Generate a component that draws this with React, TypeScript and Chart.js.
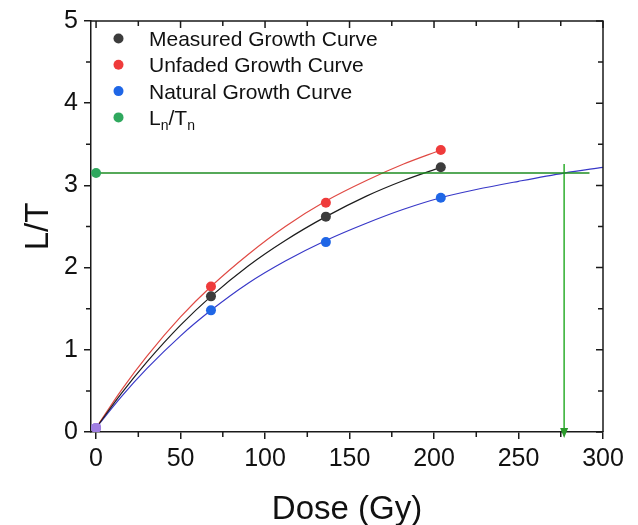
import React, { useEffect, useRef } from 'react';
import { Chart, registerables } from 'chart.js';

Chart.register(...registerables);

// Measured points (Dose in Gy, L/T)
const DOSE = [0, 68, 136, 204];
const MEASURED = [0.05, 1.65, 2.62, 3.22];
const UNFADED = [0.05, 1.77, 2.79, 3.43];
const NATURAL = [0.05, 1.48, 2.31, 2.85];

// Fitted growth curves
const FIT_DOSE = [0, 15, 30, 50, 68, 90, 112, 136, 160, 182, 204];
const MEASURED_FIT = [0.05, 0.47, 0.85, 1.3, 1.65, 2.02, 2.33, 2.62, 2.87, 3.06, 3.22];
const UNFADED_FIT = [0.05, 0.51, 0.92, 1.4, 1.77, 2.16, 2.5, 2.81, 3.06, 3.26, 3.43];
const NATURAL_FIT_DOSE = [0, 15, 30, 50, 68, 90, 112, 136, 160, 182, 204, 225, 250, 277, 300];
const NATURAL_FIT = [0.05, 0.43, 0.77, 1.17, 1.48, 1.81, 2.08, 2.33, 2.54, 2.71, 2.85, 2.95, 3.05, 3.15, 3.22];

// Natural signal Ln/Tn and equivalent dose
const LN_TN = 3.15;
const LN_LINE_DOSE = [0, 292];
const EQ_DOSE = 277;
const EQ_LINE_LT = [3.26, 0];

const X_TICKS = [0, 50, 100, 150, 200, 250, 300];
const X_MINOR = [25, 75, 125, 175, 225, 275];
const Y_TICKS = [0, 1, 2, 3, 4, 5];
const Y_MINOR = [0.5, 1.5, 2.5, 3.5, 4.5];

const LEGEND_LABELS = ['Measured Growth Curve', 'Unfaded Growth Curve', 'Natural Growth Curve'];

const FONT = "'Liberation Sans', Arial, sans-serif";
const C_MEAS = '#3c3c3c';
const C_UNF = '#ef3b3b';
const C_NAT = '#1f66e6';
const C_LN = '#2fa85e';
const C_ORIGIN = '#a07ee2';
const LEGEND_COLORS = [C_MEAS, C_UNF, C_NAT, C_LN];

const pts = (xs: number[], ys: number[]) => xs.map((x, i) => ({ x, y: ys[i] }));

const framePlugin = {
  id: 'frameTicks',
  afterDraw(chart: any) {
    const { ctx, chartArea } = chart;
    const { left, right, top, bottom } = chartArea;
    const xs = chart.scales.x;
    const ys = chart.scales.y;
    ctx.save();
    ctx.strokeStyle = '#1a1a1a';
    ctx.lineWidth = 1.5;
    ctx.beginPath();
    ctx.moveTo(left, top);
    ctx.lineTo(right, top);
    ctx.lineTo(right, bottom);
    ctx.stroke();
    ctx.beginPath();
    X_TICKS.forEach((v) => {
      const p = xs.getPixelForValue(v);
      ctx.moveTo(p, top);
      ctx.lineTo(p, top + 7);
    });
    X_MINOR.forEach((v) => {
      const p = xs.getPixelForValue(v);
      ctx.moveTo(p, top);
      ctx.lineTo(p, top + 5);
      ctx.moveTo(p, bottom);
      ctx.lineTo(p, bottom + 5);
    });
    Y_TICKS.forEach((v) => {
      const p = ys.getPixelForValue(v);
      ctx.moveTo(right, p);
      ctx.lineTo(right - 7, p);
    });
    Y_MINOR.forEach((v) => {
      const p = ys.getPixelForValue(v);
      ctx.moveTo(right, p);
      ctx.lineTo(right - 5, p);
      ctx.moveTo(left, p);
      ctx.lineTo(left - 5, p);
    });
    ctx.stroke();

    // arrow head at the bottom of the equivalent-dose line
    const ax = xs.getPixelForValue(EQ_DOSE);
    const ay = ys.getPixelForValue(0);
    ctx.fillStyle = '#2a9a2a';
    ctx.beginPath();
    ctx.moveTo(ax - 4, ay - 4);
    ctx.lineTo(ax + 4, ay - 4);
    ctx.lineTo(ax, ay + 6);
    ctx.closePath();
    ctx.fill();

    // legend
    const cx = left + 27.5;
    const tx = left + 58;
    const step = 26.3;
    ctx.textBaseline = 'alphabetic';
    ctx.textAlign = 'left';
    for (let i = 0; i < 4; i++) {
      const cy = top + 17.5 + i * step;
      ctx.beginPath();
      ctx.fillStyle = LEGEND_COLORS[i];
      ctx.arc(cx, cy, 5, 0, Math.PI * 2);
      ctx.fill();
      const base = cy + 7.5;
      ctx.fillStyle = '#111';
      if (i < 3) {
        ctx.font = `21px ${FONT}`;
        ctx.fillText(LEGEND_LABELS[i], tx, base);
      } else {
        let x = tx;
        const big = `21px ${FONT}`;
        const small = `14px ${FONT}`;
        const parts: [string, boolean][] = [['L', false], ['n', true], ['/T', false], ['n', true]];
        parts.forEach(([t, sub]) => {
          ctx.font = sub ? small : big;
          ctx.fillText(t, x, sub ? base + 5 : base);
          x += ctx.measureText(t).width;
        });
      }
    }
    ctx.restore();
  },
};

export default function App() {
  const ref = useRef<HTMLCanvasElement | null>(null);
  useEffect(() => {
    if (!ref.current) return;
    const originColor = (c: string) => (ctx: any) => (ctx.dataIndex === 0 ? C_ORIGIN : c);
    const chart = new Chart(ref.current, {
      type: 'line',
      data: {
        datasets: [
          {
            label: 'Measured Growth Curve',
            data: pts(DOSE, MEASURED),
            showLine: false,
            pointRadius: 5,
            pointBorderWidth: 0,
            backgroundColor: originColor(C_MEAS),
            borderColor: originColor(C_MEAS),
            order: 0,
          },
          {
            label: 'Unfaded Growth Curve',
            data: pts(DOSE, UNFADED),
            showLine: false,
            pointRadius: 5,
            pointBorderWidth: 0,
            backgroundColor: originColor(C_UNF),
            borderColor: originColor(C_UNF),
            order: 0,
          },
          {
            label: 'Natural Growth Curve',
            data: pts(DOSE, NATURAL),
            showLine: false,
            pointRadius: 5,
            pointBorderWidth: 0,
            backgroundColor: originColor(C_NAT),
            borderColor: originColor(C_NAT),
            order: 0,
          },
          {
            label: 'Ln/Tn',
            data: [{ x: 0, y: LN_TN }],
            showLine: false,
            pointRadius: 5,
            pointBorderWidth: 0,
            backgroundColor: C_LN,
            borderColor: C_LN,
            clip: false,
            order: 0,
          },
          {
            label: 'Measured fit',
            data: pts(FIT_DOSE, MEASURED_FIT),
            borderColor: '#1c1c1c',
            borderWidth: 1.2,
            pointRadius: 0,
            cubicInterpolationMode: 'monotone',
            order: 2,
          },
          {
            label: 'Unfaded fit',
            data: pts(FIT_DOSE, UNFADED_FIT),
            borderColor: '#e04a44',
            borderWidth: 1.2,
            pointRadius: 0,
            cubicInterpolationMode: 'monotone',
            order: 2,
          },
          {
            label: 'Natural fit',
            data: pts(NATURAL_FIT_DOSE, NATURAL_FIT),
            borderColor: '#3838c8',
            borderWidth: 1.2,
            pointRadius: 0,
            cubicInterpolationMode: 'monotone',
            order: 2,
          },
          {
            label: 'Ln/Tn line',
            data: LN_LINE_DOSE.map((x) => ({ x, y: LN_TN })),
            borderColor: '#1e8c22',
            borderWidth: 1.6,
            pointRadius: 0,
            order: 1,
          },
          {
            label: 'De line',
            data: EQ_LINE_LT.map((y) => ({ x: EQ_DOSE, y })),
            borderColor: '#3cb43c',
            borderWidth: 1.6,
            pointRadius: 0,
            clip: false,
            order: 1,
          },
        ],
      },
      options: {
        animation: false,
        responsive: false,
        maintainAspectRatio: false,
        events: [],
        layout: { padding: { top: 20, right: 35, left: 0, bottom: 0 } },
        plugins: { legend: { display: false }, tooltip: { enabled: false } },
        scales: {
          x: {
            type: 'linear',
            min: -3,
            max: 300,
            afterBuildTicks: (s: any) => {
              s.ticks = X_TICKS.map((value) => ({ value }));
            },
            afterFit: (s: any) => {
              s.height = 93;
            },
            grid: { drawOnChartArea: false, drawTicks: true, tickLength: 7, color: '#1a1a1a', lineWidth: 1.5 },
            border: { display: true, color: '#1a1a1a', width: 1.5 },
            ticks: { color: '#111', font: { family: FONT, size: 25 }, padding: 5, maxRotation: 0 },
            title: {
              display: true,
              text: 'Dose (Gy)',
              color: '#111',
              font: { family: FONT, size: 33, lineHeight: 1 },
              padding: { top: 0, bottom: -1 },
            },
          },
          y: {
            type: 'linear',
            min: 0,
            max: 5,
            afterBuildTicks: (s: any) => {
              s.ticks = Y_TICKS.map((value) => ({ value }));
            },
            afterFit: (s: any) => {
              s.width = 91;
            },
            grid: { drawOnChartArea: false, drawTicks: true, tickLength: 7, color: '#1a1a1a', lineWidth: 1.5 },
            border: { display: true, color: '#1a1a1a', width: 1.5 },
            ticks: { color: '#111', font: { family: FONT, size: 25 }, padding: 6 },
            title: {
              display: true,
              text: 'L/T',
              color: '#111',
              font: { family: FONT, size: 33, lineHeight: 1 },
              padding: { top: 22, bottom: 0 },
            },
          },
        },
      },
      plugins: [framePlugin],
    } as any);
    return () => chart.destroy();
  }, []);
  return (
    <div style={{ position: 'fixed', left: 0, top: 0, width: 638, height: 525, background: '#fff' }}>
      <canvas ref={ref} width={638} height={525} style={{ display: 'block', width: 638, height: 525 }} />
    </div>
  );
}
